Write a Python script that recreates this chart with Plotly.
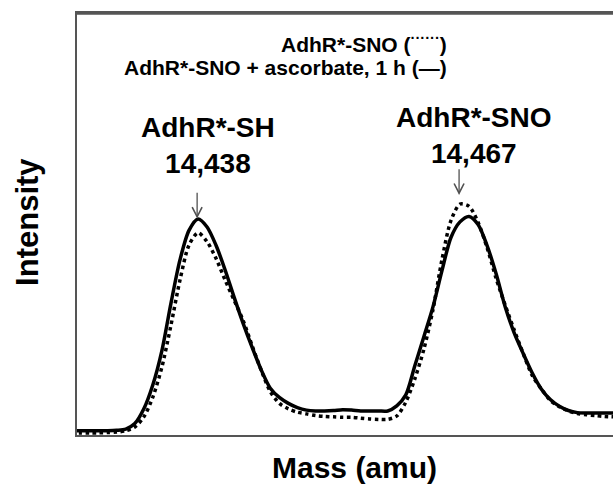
import plotly.graph_objects as go

# Mass axis (amu), one point per amu
mass = list(range(14424, 14485))

# AdhR*-SNO + ascorbate, 1 h (solid)
intensity_ascorbate = [
    1.0, 1.0, 1.0, 1.0, 1.0, 1.1, 1.4, 2.7, 6.2, 11.9,
    20.0, 31.2, 41.5, 48.5, 51.2, 49.3, 44.9, 39.1, 32.6, 26.4,
    20.7, 15.4, 11.1, 8.9, 7.5, 6.5, 5.9, 5.7, 5.7, 5.8,
    6.0, 5.9, 5.7, 5.7, 5.7, 5.7, 6.9, 9.5, 16.4, 23.3,
    30.3, 38.9, 46.8, 50.5, 51.8, 49.9, 44.9, 38.2, 30.4, 24.2,
    19.3, 14.7, 10.9, 8.4, 6.8, 5.8, 5.3, 5.2, 5.2, 5.2, 5.2,
]

# AdhR*-SNO (dotted)
intensity_sno = [
    0.5, 0.5, 0.5, 0.5, 0.6, 0.7, 1.0, 1.9, 4.3, 9.0,
    16.1, 26.0, 36.7, 45.0, 47.9, 45.8, 41.8, 36.7, 31.9, 27.1,
    21.1, 15.3, 10.3, 7.5, 6.2, 5.4, 5.0, 4.6, 4.4, 4.3,
    4.2, 4.2, 4.0, 3.8, 3.7, 3.7, 4.5, 7.8, 13.3, 20.3,
    29.6, 41.5, 50.8, 54.7, 54.2, 50.4, 44.4, 37.1, 30.8, 24.9,
    19.3, 14.1, 10.9, 8.2, 6.7, 5.7, 5.1, 4.8, 4.6, 4.4, 4.3,
]

peak_names = ["AdhR*-SH", "AdhR*-SNO"]
peak_labels = ["14,438", "14,467"]

FONT = "Liberation Sans, Arial, sans-serif"

fig = go.Figure()
fig.add_trace(go.Scatter(
    x=mass, y=intensity_ascorbate, mode="lines",
    line=dict(color="black", width=3.5, shape="spline", smoothing=0.8),
    hoverinfo="skip", showlegend=False,
))
fig.add_trace(go.Scatter(
    x=mass, y=intensity_sno, mode="lines",
    line=dict(color="black", width=3.5, dash="3.5px,3.5px", shape="spline", smoothing=0.8),
    hoverinfo="skip", showlegend=False,
))

annotations = []
# peak labels
label_pos = [(14439.05, 68.5), (14468.55, 71.0)]
for (lx, ly), name, lab in zip(label_pos, peak_names, peak_labels):
    annotations.append(dict(
        x=lx, y=ly, xref="x", yref="y", showarrow=False,
        text=f"<b>{name}</b><br><b>{lab}</b>",
        font=dict(family=FONT, size=28, color="black"),
        xanchor="center", yanchor="middle", align="center",
    ))
# legend text
annotations.append(dict(
    x=0.694, y=0.929, xref="paper", yref="paper", showarrow=False,
    text="<b>AdhR*-SNO (<sup>······</sup>)</b>",
    font=dict(family=FONT, size=21, color="black"),
    xanchor="right", yanchor="middle",
))
annotations.append(dict(
    x=0.694, y=0.870, xref="paper", yref="paper", showarrow=False,
    text="<b>AdhR*-SNO + ascorbate, 1 h (—)</b>",
    font=dict(family=FONT, size=21, color="black"),
    xanchor="right", yanchor="middle",
))
# axis titles
annotations.append(dict(
    x=0.517, y=-0.077, xref="paper", yref="paper", showarrow=False,
    text="<b>Mass (amu)</b>", font=dict(family=FONT, size=30, color="black"),
    xanchor="center", yanchor="middle",
))
annotations.append(dict(
    x=-0.0914, y=0.505, xref="paper", yref="paper", showarrow=False,
    text="<b>Intensity</b>", font=dict(family=FONT, size=31, color="black"),
    xanchor="center", yanchor="middle", textangle=-90,
))

# arrows drawn as line shapes with open V heads (data coordinates)
arrow_x = [14437.9, 14466.9]
arrow_tip = [51.7, 57.3]
shapes = [dict(type="line", xref="paper", yref="paper", x0=0, x1=1.0, y0=0.998, y1=0.998,
               layer="above", line=dict(color="#555555", width=2))]
for axm, tip in zip(arrow_x, arrow_tip):
    shapes.append(dict(type="line", xref="x", yref="y", x0=axm, x1=axm, y0=tip, y1=tip + 5.7,
                       line=dict(color="#505050", width=1.3)))
    shapes.append(dict(type="path", xref="x", yref="y",
                       path=f"M {axm-0.55},{tip+2.3} L {axm},{tip} L {axm+0.55},{tip+2.3}",
                       line=dict(color="#505050", width=1.6)))

fig.update_layout(
    width=613, height=486,
    margin=dict(l=77, r=0, t=13, b=51),
    paper_bgcolor="white", plot_bgcolor="white",
    annotations=annotations,
    shapes=shapes,
    xaxis=dict(range=[14424.6, 14483.94], showline=True, mirror=True,
               linecolor="#555555", linewidth=2,
               showticklabels=False, ticks="", showgrid=False, zeroline=False),
    yaxis=dict(range=[0, 100], showline=True, linecolor="#555555", linewidth=1.5,
               showticklabels=False, ticks="", showgrid=False, zeroline=False),
)

fig.write_html("out.html", config={"displayModeBar": False})
